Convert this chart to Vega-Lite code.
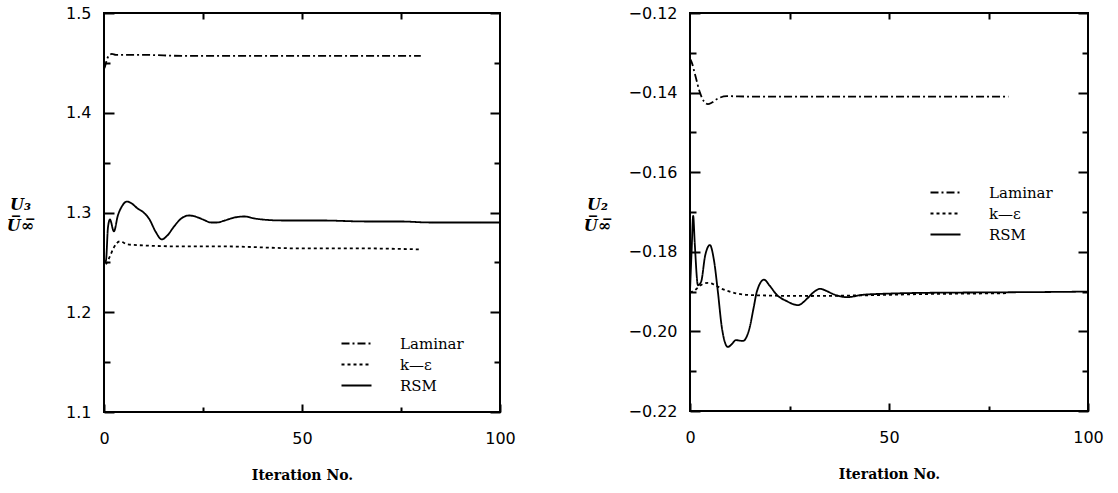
{
  "$schema": "https://vega.github.io/schema/vega-lite/v6.json",
  "background": "white",
  "padding": {"left": 5, "top": 4, "right": 5, "bottom": 5},
  "spacing": 65,
  "config": {
    "view": {"stroke": "black", "strokeWidth": 2},
    "axis": {
      "domain": false, "grid": false, "tickColor": "black", "tickWidth": 2,
      "labelFont": "DejaVu Sans", "labelFontSize": 16, "labelColor": "black", "labelFlush": false,
      "titleFont": "DejaVu Serif", "titleColor": "black"
    },
    "legend": {
      "orient": "none", "padding": 0, "symbolType": "M-3,0H3", "symbolSize": 100,
      "symbolStrokeColor": "black", "symbolStrokeWidth": 2, "labelFont": "DejaVu Serif",
      "labelFontSize": 15, "labelColor": "black", "labelOffset": 36, "rowPadding": 5, "labelLimit": 300
    }
  },
  "datasets": {
    "left": [
      {"model": "Laminar", "x": 0, "y": 1.444}, {"model": "Laminar", "x": 0.3, "y": 1.447}, {"model": "Laminar", "x": 0.7, "y": 1.453},
      {"model": "Laminar", "x": 1.2, "y": 1.457}, {"model": "Laminar", "x": 2, "y": 1.459}, {"model": "Laminar", "x": 3, "y": 1.458},
      {"model": "Laminar", "x": 5, "y": 1.458}, {"model": "Laminar", "x": 10, "y": 1.458}, {"model": "Laminar", "x": 20, "y": 1.457},
      {"model": "Laminar", "x": 40, "y": 1.457}, {"model": "Laminar", "x": 60, "y": 1.457}, {"model": "Laminar", "x": 80, "y": 1.457},
      {"model": "k—ε", "x": 0.5, "y": 1.248}, {"model": "k—ε", "x": 1.5, "y": 1.256}, {"model": "k—ε", "x": 2.5, "y": 1.265},
      {"model": "k—ε", "x": 4, "y": 1.271}, {"model": "k—ε", "x": 6, "y": 1.268}, {"model": "k—ε", "x": 10, "y": 1.267},
      {"model": "k—ε", "x": 20, "y": 1.266}, {"model": "k—ε", "x": 30, "y": 1.266}, {"model": "k—ε", "x": 50, "y": 1.264},
      {"model": "k—ε", "x": 65, "y": 1.264}, {"model": "k—ε", "x": 80, "y": 1.263},
      {"model": "RSM", "x": 0, "y": 1.25}, {"model": "RSM", "x": 0.5, "y": 1.252}, {"model": "RSM", "x": 1, "y": 1.285},
      {"model": "RSM", "x": 1.5, "y": 1.293}, {"model": "RSM", "x": 2.5, "y": 1.281}, {"model": "RSM", "x": 3.5, "y": 1.297},
      {"model": "RSM", "x": 4.5, "y": 1.306}, {"model": "RSM", "x": 5.8, "y": 1.311}, {"model": "RSM", "x": 7, "y": 1.309},
      {"model": "RSM", "x": 8.5, "y": 1.304}, {"model": "RSM", "x": 10, "y": 1.3}, {"model": "RSM", "x": 11.5, "y": 1.293},
      {"model": "RSM", "x": 13, "y": 1.281}, {"model": "RSM", "x": 14.6, "y": 1.273}, {"model": "RSM", "x": 16, "y": 1.277},
      {"model": "RSM", "x": 17.7, "y": 1.286}, {"model": "RSM", "x": 19.5, "y": 1.294}, {"model": "RSM", "x": 21.5, "y": 1.297},
      {"model": "RSM", "x": 23, "y": 1.296}, {"model": "RSM", "x": 25, "y": 1.293}, {"model": "RSM", "x": 27, "y": 1.29},
      {"model": "RSM", "x": 28.5, "y": 1.29}, {"model": "RSM", "x": 30.5, "y": 1.292}, {"model": "RSM", "x": 33, "y": 1.295},
      {"model": "RSM", "x": 35.5, "y": 1.296}, {"model": "RSM", "x": 38, "y": 1.294}, {"model": "RSM", "x": 40, "y": 1.293},
      {"model": "RSM", "x": 45, "y": 1.292}, {"model": "RSM", "x": 55, "y": 1.292}, {"model": "RSM", "x": 66, "y": 1.291},
      {"model": "RSM", "x": 75, "y": 1.291}, {"model": "RSM", "x": 82, "y": 1.29}, {"model": "RSM", "x": 90, "y": 1.29},
      {"model": "RSM", "x": 100, "y": 1.29}
    ],
    "right": [
      {"model": "Laminar", "x": 0, "y": -0.1315}, {"model": "Laminar", "x": 0.5, "y": -0.1326}, {"model": "Laminar", "x": 1.3, "y": -0.1356},
      {"model": "Laminar", "x": 2.5, "y": -0.14}, {"model": "Laminar", "x": 3.5, "y": -0.1422}, {"model": "Laminar", "x": 4.5, "y": -0.1429},
      {"model": "Laminar", "x": 5.5, "y": -0.1425}, {"model": "Laminar", "x": 6.8, "y": -0.1416}, {"model": "Laminar", "x": 9.3, "y": -0.1409},
      {"model": "Laminar", "x": 15, "y": -0.141}, {"model": "Laminar", "x": 30, "y": -0.141}, {"model": "Laminar", "x": 50, "y": -0.141},
      {"model": "Laminar", "x": 80, "y": -0.141},
      {"model": "k—ε", "x": 0, "y": -0.1902}, {"model": "k—ε", "x": 1, "y": -0.1898}, {"model": "k—ε", "x": 2, "y": -0.189},
      {"model": "k—ε", "x": 3, "y": -0.1882}, {"model": "k—ε", "x": 4.5, "y": -0.1878}, {"model": "k—ε", "x": 6, "y": -0.1882},
      {"model": "k—ε", "x": 8, "y": -0.1893}, {"model": "k—ε", "x": 10, "y": -0.19}, {"model": "k—ε", "x": 14, "y": -0.1908},
      {"model": "k—ε", "x": 20, "y": -0.191}, {"model": "k—ε", "x": 30, "y": -0.1911}, {"model": "k—ε", "x": 40, "y": -0.191},
      {"model": "k—ε", "x": 50, "y": -0.1908}, {"model": "k—ε", "x": 60, "y": -0.1906}, {"model": "k—ε", "x": 70, "y": -0.1905},
      {"model": "k—ε", "x": 80, "y": -0.1904},
      {"model": "RSM", "x": 0, "y": -0.19}, {"model": "RSM", "x": 0.4, "y": -0.18}, {"model": "RSM", "x": 0.8, "y": -0.171},
      {"model": "RSM", "x": 1.2, "y": -0.178}, {"model": "RSM", "x": 2, "y": -0.1884}, {"model": "RSM", "x": 2.8, "y": -0.1875},
      {"model": "RSM", "x": 3.8, "y": -0.181}, {"model": "RSM", "x": 5, "y": -0.1783}, {"model": "RSM", "x": 6, "y": -0.182},
      {"model": "RSM", "x": 7, "y": -0.19}, {"model": "RSM", "x": 8, "y": -0.199}, {"model": "RSM", "x": 9.5, "y": -0.2039},
      {"model": "RSM", "x": 10.5, "y": -0.2032}, {"model": "RSM", "x": 11.5, "y": -0.2022}, {"model": "RSM", "x": 13.3, "y": -0.2024},
      {"model": "RSM", "x": 15, "y": -0.199}, {"model": "RSM", "x": 16, "y": -0.194}, {"model": "RSM", "x": 16.8, "y": -0.19},
      {"model": "RSM", "x": 18.6, "y": -0.187}, {"model": "RSM", "x": 20, "y": -0.1885}, {"model": "RSM", "x": 21.8, "y": -0.1908},
      {"model": "RSM", "x": 24.3, "y": -0.1924}, {"model": "RSM", "x": 27.1, "y": -0.1934}, {"model": "RSM", "x": 29.6, "y": -0.1916},
      {"model": "RSM", "x": 31, "y": -0.1902}, {"model": "RSM", "x": 32.7, "y": -0.1893}, {"model": "RSM", "x": 34, "y": -0.1897},
      {"model": "RSM", "x": 35.9, "y": -0.1906}, {"model": "RSM", "x": 39.4, "y": -0.1914}, {"model": "RSM", "x": 43.5, "y": -0.1908},
      {"model": "RSM", "x": 50, "y": -0.1905}, {"model": "RSM", "x": 60, "y": -0.1903}, {"model": "RSM", "x": 75, "y": -0.1902},
      {"model": "RSM", "x": 90, "y": -0.1901}, {"model": "RSM", "x": 100, "y": -0.19}
    ]
  },
  "resolve": {"scale": {"x": "independent", "y": "independent"}, "legend": {"strokeDash": "independent"}},
  "hconcat": [
    {
      "width": 396, "height": 399,
      "data": {"name": "left"},
      "resolve": {"axis": {"x": "independent", "y": "independent"}},
      "layer": [
        {
          "mark": {"type": "line", "interpolate": "monotone", "color": "black"},
          "encoding": {
            "x": {"field": "x", "type": "quantitative", "scale": {"domain": [0, 100], "nice": false},
              "axis": {"orient": "bottom", "values": [0, 25, 50, 75, 100], "format": "d",
                "labelExpr": "datum.value % 50 == 0 ? datum.label : ''",
                "tickSize": {"condition": {"test": "datum.value % 50 == 0", "value": -8}, "value": -5},
                "labelPadding": 26, "title": "Iteration No.", "titleFontSize": 14, "titleFontWeight": "bold",
                "titleY": 56, "titleBaseline": "top"}},
            "y": {"field": "y", "type": "quantitative", "scale": {"domain": [1.1, 1.5], "nice": false, "zero": false},
              "axis": {"orient": "left", "values": [1.1, 1.15, 1.2, 1.25, 1.3, 1.35, 1.4, 1.45, 1.5],
                "labelExpr": "round(datum.value*100) % 10 == 0 ? format(datum.value, '.1f') : ''",
                "tickSize": {"condition": {"test": "round(datum.value*100) % 10 == 0", "value": -10}, "value": -6},
                "labelPadding": 23,
                "title": ["U₃", "U̅∞̅"], "titleAngle": 0, "titleAlign": "center", "titleBaseline": "alphabetic",
                "titleX": -84, "titleY": 196, "titleFontSize": 16, "titleFontStyle": "italic", "titleFontWeight": "bold", "titleLineHeight": 21}},
            "strokeDash": {"field": "model", "type": "nominal",
              "scale": {"domain": ["Laminar", "k—ε", "RSM"], "range": [[8, 3, 2, 3], [3, 3], [1, 0]]},
              "legend": {"title": null, "legendX": 245, "legendY": 323}},
            "strokeWidth": {"field": "model", "type": "nominal",
              "scale": {"domain": ["Laminar", "k—ε", "RSM"], "range": [1.8, 1.8, 2.6]}, "legend": null}
          }
        },
        {
          "mark": {"type": "line", "strokeOpacity": 0},
          "encoding": {
            "x": {"field": "x", "type": "quantitative",
              "axis": {"orient": "top", "values": [25, 50, 75], "labels": false, "tickSize": -6, "title": null}},
            "y": {"field": "y", "type": "quantitative",
              "axis": {"orient": "right", "values": [1.1, 1.15, 1.2, 1.25, 1.3, 1.35, 1.4, 1.45, 1.5], "labels": false,
                "tickSize": {"condition": {"test": "round(datum.value*100) % 10 == 0", "value": -10}, "value": -6}, "title": null}},
            "detail": {"field": "model"}
          }
        }
      ]
    },
    {
      "width": 398, "height": 398,
      "data": {"name": "right"},
      "resolve": {"axis": {"x": "independent", "y": "independent"}},
      "layer": [
        {
          "mark": {"type": "line", "interpolate": "monotone", "color": "black"},
          "encoding": {
            "x": {"field": "x", "type": "quantitative", "scale": {"domain": [0, 100], "nice": false},
              "axis": {"orient": "bottom", "values": [0, 25, 50, 75, 100], "format": "d",
                "labelExpr": "datum.value % 50 == 0 ? datum.label : ''",
                "tickSize": {"condition": {"test": "datum.value % 50 == 0", "value": -8}, "value": -5},
                "labelPadding": 26, "title": "Iteration No.", "titleFontSize": 14, "titleFontWeight": "bold",
                "titleY": 56, "titleBaseline": "top"}},
            "y": {"field": "y", "type": "quantitative", "scale": {"domain": [-0.22, -0.12], "nice": false, "zero": false},
              "axis": {"orient": "left", "values": [-0.22, -0.21, -0.2, -0.19, -0.18, -0.17, -0.16, -0.15, -0.14, -0.13, -0.12],
                "labelExpr": "abs(round(datum.value*100)) % 2 == 0 ? format(datum.value, '.2f') : ''",
                "tickSize": {"condition": {"test": "abs(round(datum.value*100)) % 2 == 0", "value": -10}, "value": -6},
                "labelPadding": 23,
                "title": ["U₂", "U̅∞̅"], "titleAngle": 0, "titleAlign": "center", "titleBaseline": "alphabetic",
                "titleX": -93, "titleY": 196, "titleFontSize": 16, "titleFontStyle": "italic", "titleFontWeight": "bold", "titleLineHeight": 21}},
            "strokeDash": {"field": "model", "type": "nominal",
              "scale": {"domain": ["Laminar", "k—ε", "RSM"], "range": [[8, 3, 2, 3], [3, 3], [1, 0]]},
              "legend": {"title": null, "legendX": 248, "legendY": 172}},
            "strokeWidth": {"field": "model", "type": "nominal",
              "scale": {"domain": ["Laminar", "k—ε", "RSM"], "range": [1.8, 1.8, 2.6]}, "legend": null}
          }
        },
        {
          "mark": {"type": "line", "strokeOpacity": 0},
          "encoding": {
            "x": {"field": "x", "type": "quantitative",
              "axis": {"orient": "top", "values": [25, 50, 75], "labels": false, "tickSize": -6, "title": null}},
            "y": {"field": "y", "type": "quantitative",
              "axis": {"orient": "right", "values": [-0.22, -0.21, -0.2, -0.19, -0.18, -0.17, -0.16, -0.15, -0.14, -0.13, -0.12], "labels": false,
                "tickSize": {"condition": {"test": "abs(round(datum.value*100)) % 2 == 0", "value": -10}, "value": -6}, "title": null}},
            "detail": {"field": "model"}
          }
        }
      ]
    }
  ]
}
